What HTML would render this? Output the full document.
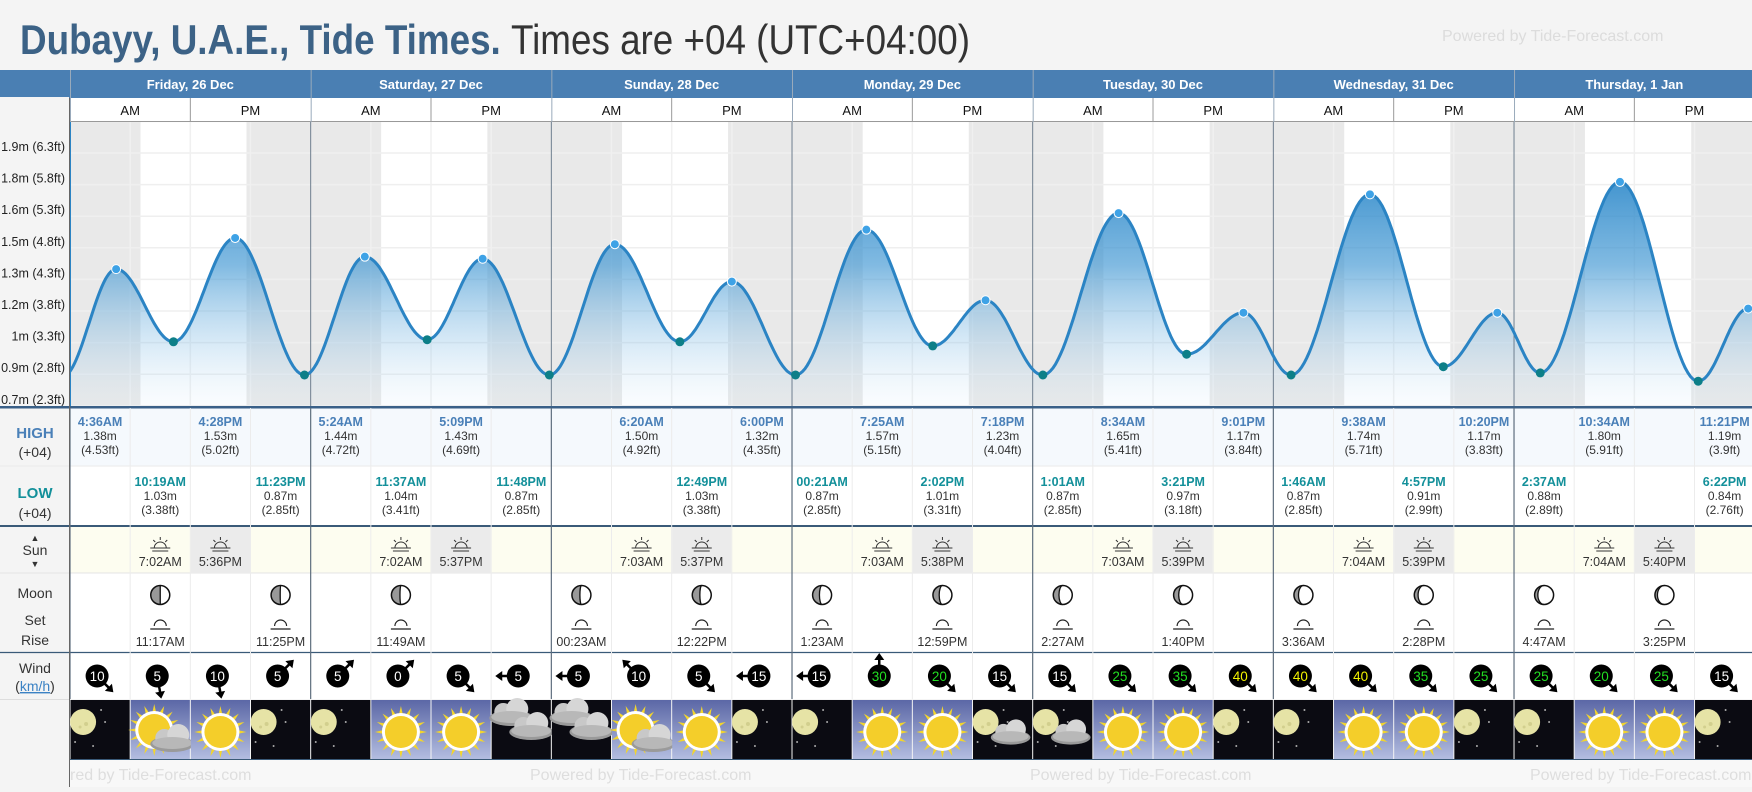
<!DOCTYPE html>
<html><head><meta charset="utf-8"><style>
html,body{margin:0;padding:0;background:#f4f4f4;}
body{width:1752px;height:787px;overflow:hidden;font-family:"Liberation Sans",sans-serif;}
svg text{font-family:"Liberation Sans",sans-serif;}
</style></head><body>
<svg id="s" width="1752" height="787" viewBox="0 0 1752 787" xmlns="http://www.w3.org/2000/svg">
<defs>
<linearGradient id="fillg" x1="0" y1="150" x2="0" y2="406" gradientUnits="userSpaceOnUse">
<stop offset="0" stop-color="#1f7fc4" stop-opacity="0.95"/>
<stop offset="0.45" stop-color="#3d95d2" stop-opacity="0.65"/>
<stop offset="1" stop-color="#cfe6f7" stop-opacity="0.1"/>
</linearGradient>
<linearGradient id="dayg" x1="0" y1="0" x2="0" y2="1">
<stop offset="0" stop-color="#5b67a6"/><stop offset="1" stop-color="#b3bde0"/>
</linearGradient>
<clipPath id="cc"><rect x="70" y="122" width="1682" height="284"/></clipPath>
</defs>
<rect x="0" y="0" width="1752" height="787" fill="#f4f4f4"/>
<text x="20" y="54" font-size="42" font-weight="bold" fill="#3c6286" textLength="950" lengthAdjust="spacingAndGlyphs">Dubayy, U.A.E., Tide Times. <tspan font-weight="normal" fill="#333">Times are +04 (UTC+04:00)</tspan></text>
<text x="1442" y="41" font-size="16" fill="#dcdcdc">Powered by Tide-Forecast.com</text>
<g id="g"></g>
</svg>
<script>
const days = ["Friday, 26 Dec","Saturday, 27 Dec","Sunday, 28 Dec","Monday, 29 Dec","Tuesday, 30 Dec","Wednesday, 31 Dec","Thursday, 1 Jan"];
const tideDay = [0,0,0,0,1,1,1,1,2,2,2,3,3,3,3,4,4,4,4,5,5,5,5,6,6,6,6];
const tideHour = [4.6,10.317,16.467,23.383,5.4,11.617,17.15,23.8,6.333,12.817,18.0,0.35,7.417,14.033,19.3,1.017,8.567,15.35,21.017,1.767,9.633,16.95,22.333,2.617,10.567,18.367,23.35];
const tideType = ["H","L","H","L","H","L","H","L","H","L","H","L","H","L","H","L","H","L","H","L","H","L","H","L","H","L","H"];
const tideTime = ["4:36AM","10:19AM","4:28PM","11:23PM","5:24AM","11:37AM","5:09PM","11:48PM","6:20AM","12:49PM","6:00PM","00:21AM","7:25AM","2:02PM","7:18PM","1:01AM","8:34AM","3:21PM","9:01PM","1:46AM","9:38AM","4:57PM","10:20PM","2:37AM","10:34AM","6:22PM","11:21PM"];
const tideM = [1.38,1.03,1.53,0.87,1.44,1.04,1.43,0.87,1.50,1.03,1.32,0.87,1.57,1.01,1.23,0.87,1.65,0.97,1.17,0.87,1.74,0.91,1.17,0.88,1.80,0.84,1.19];
const tideFt = ["4.53ft","3.38ft","5.02ft","2.85ft","4.72ft","3.41ft","4.69ft","2.85ft","4.92ft","3.38ft","4.35ft","2.85ft","5.15ft","3.31ft","4.04ft","2.85ft","5.41ft","3.18ft","3.84ft","2.85ft","5.71ft","2.99ft","3.83ft","2.89ft","5.91ft","2.76ft","3.9ft"];
const yTicks = ["2.1m (6.8ft)","1.9m (6.3ft)","1.8m (5.8ft)","1.6m (5.3ft)","1.5m (4.8ft)","1.3m (4.3ft)","1.2m (3.8ft)","1m (3.3ft)","0.9m (2.8ft)","0.7m (2.3ft)"];
const sunrise = ["7:02AM","7:02AM","7:03AM","7:03AM","7:03AM","7:04AM","7:04AM"];
const sunset = ["5:36PM","5:37PM","5:37PM","5:38PM","5:39PM","5:39PM","5:40PM"];
const sunriseH = [7.03,7.03,7.05,7.05,7.05,7.07,7.07];
const sunsetH = [17.6,17.62,17.62,17.63,17.65,17.65,17.67];
const moonDay = [0,0,1,2,2,3,3,4,4,5,5,6,6];
const moonCol = [1,3,1,0,2,0,2,0,2,0,2,0,2];
const moonTime = ["11:17AM","11:25PM","11:49AM","00:23AM","12:22PM","1:23AM","12:59PM","2:27AM","1:40PM","3:36AM","2:28PM","4:47AM","3:25PM"];
const moonKind = ["R","S","R","S","R","S","R","S","R","S","R","S","R"];
const moonPhase = [0.5,0.48,0.45,0.42,0.4,0.36,0.33,0.3,0.27,0.24,0.2,0.17,0.13];
const wind = [10,5,10,5, 5,0,5,5, 5,10,5,15, 15,30,20,15, 15,25,35,40, 40,40,35,25, 25,20,25,15];
const windDir = [45,80,80,-45, -45,-45,45,180, 180,-135,45,180, 180,-90,45,45, 45,45,45,45, 45,45,45,45, 45,45,45,45];
const weather = ["m","sc","s","m", "m","s","s","nc", "nc","sc","s","m", "m","s","s","mc", "mc","s","s","m", "m","s","s","m", "m","s","s","m"];

const NS="http://www.w3.org/2000/svg";
const G=document.getElementById('g');
function el(tag,attrs,parent){const e=document.createElementNS(NS,tag);for(const k in attrs)e.setAttribute(k,attrs[k]);(parent||G).appendChild(e);return e;}
function txt(x,y,s,attrs,parent){const t=el('text',Object.assign({x:x,y:y},attrs),parent);t.textContent=s;return t;}
const X0=70, DW=240.67, CW=DW/4;
const xT=t=>X0+t*DW/24;
const yH=h=>375-(h-0.87)*207.6;

let r=el('rect',{x:0,y:70,width:1752,height:28,fill:'#4a7fb3'});


r=el('rect',{x:X0,y:98,width:1682,height:24,fill:'#fff'});


el('line',{x1:0,y1:121.5,x2:1752,y2:121.5,stroke:'#999','stroke-width':1});
el('line',{x1:X0,y1:98,x2:X0,y2:122,stroke:'#666','stroke-width':1});
days.forEach((d,i)=>{
  const x=X0+i*DW;
  const t=txt(x+DW/2,89,d,{'font-size':13,'font-weight':'bold',fill:'#fff','text-anchor':'middle'});
  
  
  el('line',{x1:x+0.5,y1:70,x2:x+0.5,y2:122,stroke:'#9ab',"stroke-width":1});
  el('line',{x1:x+DW/2,y1:98,x2:x+DW/2,y2:122,stroke:'#999','stroke-width':1});
  const a=txt(x+DW/4,115,'AM',{'font-size':13,fill:'#111','text-anchor':'middle'});
  
  
  const p=txt(x+3*DW/4,115,'PM',{'font-size':13,fill:'#111','text-anchor':'middle'});
  
  
});

const cg=el('g',{'clip-path':'url(#cc)'});


el('rect',{x:X0,y:122,width:1682,height:284,fill:'#e9e9e9'},cg);
days.forEach((d,i)=>{
  const rr=el('rect',{x:xT(i*24+sunriseH[i]),y:122,width:xT(i*24+sunsetH[i])-xT(i*24+sunriseH[i]),height:284,fill:'#fff'},cg);
  
  
});
for(let k=0;k<10;k++){const y=153+(k-1)*31.6; el('line',{x1:X0,y1:y,x2:1752,y2:y,stroke:'#efefef','stroke-width':1.5},cg);}
for(let h=0;h<7*24+1;h+=6){ if(h%24) el('line',{x1:xT(h),y1:122,x2:xT(h),y2:406,stroke:'#f0f0f0','stroke-width':1.5},cg);}
const ts=[-0.8], hs=[0.86];
tideDay.forEach((d,i)=>{ts.push(d*24+tideHour[i]);hs.push(tideM[i]);});
ts.push(6*24+29.5);hs.push(0.9);
let pts=[];
for(let i=0;i<ts.length-1;i++){
  for(let s=0;s<=30;s++){const f=s/30;const t=ts[i]+(ts[i+1]-ts[i])*f;const h=hs[i]+(hs[i+1]-hs[i])*(1-Math.cos(Math.PI*f))/2;pts.push([xT(t),yH(h)]);}
}
const line=pts.map((p,i)=>(i?'L':'M')+p[0].toFixed(1)+','+p[1].toFixed(1)).join('');
const area=el('path',{d:line+`L${pts[pts.length-1][0]},406L${pts[0][0]},406Z`,fill:'url(#fillg)'},cg);


for(let i=1;i<7;i++){el('line',{x1:X0+i*DW,y1:122,x2:X0+i*DW,y2:406,stroke:'#6f7f8f','stroke-width':1},cg);}
const lp=el('path',{d:line,fill:'none',stroke:'#2b84c4','stroke-width':3},cg);


tideDay.forEach((d,i)=>{
  const c=el('circle',{cx:xT(d*24+tideHour[i]),cy:yH(tideM[i]),r:4.5,fill:tideType[i]=='H'?'#3ea2e6':'#0d7f88',stroke:'#fff','stroke-width':tideType[i]=='H'?1:0},cg);
  
  
});
el('line',{x1:X0,y1:122,x2:X0,y2:406,stroke:'#2b84c4','stroke-width':2});
el('rect',{x:0,y:98,width:69,height:308,fill:'#f4f4f4'});
yTicks.forEach((s,k)=>{
  const t=txt(65,153+(k-1)*31.6-2,s,{'font-size':12.5,fill:'#222','text-anchor':'end'});
  
  
});
el('rect',{x:0,y:97,width:69,height:25,fill:'#f4f4f4'});
el('line',{x1:69.5,y1:98,x2:69.5,y2:787,stroke:'#666','stroke-width':1});

el('rect',{x:X0,y:408,width:1682,height:58,fill:'#f5f9fd'});
el('rect',{x:X0,y:466,width:1682,height:60,fill:'#fff'});
el('rect',{x:X0,y:527,width:1682,height:46,fill:'#fdfdf0'});
el('rect',{x:X0,y:573,width:1682,height:79,fill:'#fff'});
el('rect',{x:X0,y:652,width:1682,height:47,fill:'#fff'});
el('rect',{x:0,y:759,width:1752,height:28,fill:'#f8f8f8'});
el('rect',{x:0,y:406,width:1752,height:2.5,fill:'#3a6088'});
el('rect',{x:0,y:525,width:1752,height:2,fill:'#3a5a78'});
el('line',{x1:0,y1:573,x2:1752,y2:573,stroke:'#e4e4e4'});
el('line',{x1:0,y1:652.5,x2:1752,y2:652.5,stroke:'#3a5a78','stroke-width':1.2});
el('line',{x1:0,y1:466,x2:1752,y2:466,stroke:'#eaeaea'});
el('line',{x1:0,y1:699.5,x2:70,y2:699.5,stroke:'#ddd'});
el('line',{x1:0,y1:759.5,x2:1752,y2:759.5,stroke:'#3a5a78','stroke-width':1});
for(let i=0;i<7;i++){
  for(let c=0;c<4;c++){
    const x=X0+i*DW+c*CW;
    el('line',{x1:x,y1:408,x2:x,y2:699,stroke:c?'#ececec':'#5e6e7e','stroke-width':c?1:1.2});
  }
  const sx=X0+i*DW+2*CW;
  el('rect',{x:sx+0.5,y:527,width:CW-1,height:46,fill:'#ebebeb'});
}
const L=(s,y,attrs,name)=>{const t=txt(35,y,s,Object.assign({'font-size':14,fill:'#333','text-anchor':'middle'},attrs));return t;};
L('HIGH',438,{'font-weight':'bold',fill:'#4a80b8','font-size':15},'high-row-label');
L('(+04)',457,{},'high-timezone-label');
L('LOW',498,{'font-weight':'bold',fill:'#13909a','font-size':15},'low-row-label');
L('(+04)',518,{},'low-timezone-label');
L('Sun',555,{},'sun-row-label');
L('▲',541,{'font-size':9},'sun-up-arrow');
L('▼',567,{'font-size':9},'sun-down-arrow');
L('Moon',598,{},'moon-row-label');
L('Set',625,{},'moonset-label');
L('Rise',645,{},'moonrise-label');
L('Wind',673,{},'wind-row-label');
const ku=txt(35,691,'',{'font-size':14,fill:'#333','text-anchor':'middle'});
ku.innerHTML='(<tspan fill="#3b82c4" text-decoration="underline">km/h</tspan>)';



tideDay.forEach((d,i)=>{
  const c=Math.floor(tideHour[i]/6);
  const cx=X0+d*DW+c*CW+CW/2;
  const y0=tideType[i]=='H'?426:486;
  const t=txt(cx,y0,tideTime[i],{'font-size':12.5,'font-weight':'bold',fill:tideType[i]=='H'?'#4a80b8':'#13909a','text-anchor':'middle'});
  
  
  const m=txt(cx,y0+14,tideM[i].toFixed(2)+'m',{'font-size':12,fill:'#333','text-anchor':'middle'});
  
  
  const f=txt(cx,y0+28,'('+tideFt[i]+')',{'font-size':12,fill:'#333','text-anchor':'middle'});
  
  
});
function sunIcon(cx,y,name){
  const g=el('g',{stroke:'#333','stroke-width':1,fill:'none'});
  
  
  el('path',{d:`M${cx-6},${y+5}A6,6 0 0 1 ${cx+6},${y+5}`},g);
  el('line',{x1:cx-10,y1:y+5,x2:cx+10,y2:y+5},g);
  el('line',{x1:cx-8,y1:y+8,x2:cx+8,y2:y+8},g);
  el('line',{x1:cx,y1:y-6,x2:cx,y2:y-3},g);
  el('line',{x1:cx-7,y1:y-3,x2:cx-5,y2:y-1},g);
  el('line',{x1:cx+7,y1:y-3,x2:cx+5,y2:y-1},g);
}
days.forEach((d,i)=>{
  const x1=X0+i*DW+1.5*CW, x2=X0+i*DW+2.5*CW;
  sunIcon(x1,543,'sunrise-icon'); sunIcon(x2,543,'sunset-icon');
  const a=txt(x1,566,sunrise[i],{'font-size':12.5,fill:'#333','text-anchor':'middle'});
  
  
  const b=txt(x2,566,sunset[i],{'font-size':12.5,fill:'#333','text-anchor':'middle'});
  
  
});
moonDay.forEach((d,i)=>{
  const cx=X0+d*DW+moonCol[i]*CW+CW/2;
  const g=el('g',{});
  
  
  el('circle',{cx:cx,cy:595,r:9.5,fill:'#fff'},g);
  el('path',{d:`M${cx},585.5A9.5,9.5 0 0 0 ${cx},604.5Z`,fill:'#999'},g);
  const rx=Math.max(0.01,(0.5-moonPhase[i])*19);
  el('ellipse',{cx:cx,cy:595,rx:rx,ry:9.5,fill:'#fff'},g);
  el('line',{x1:cx-rx,y1:595,x2:cx-rx,y2:595,stroke:'none'},g);
  el('path',{d:`M${cx},585.5A${rx},9.5 0 0 0 ${cx},604.5`,fill:'none',stroke:'#111','stroke-width':1.3},g);
  el('circle',{cx:cx,cy:595,r:9.5,fill:'none',stroke:'#111','stroke-width':1.5},g);
  const ic=el('g',{stroke:'#222',fill:'none','stroke-width':1.2});
  
  
  el('path',{d:`M${cx-6},626A6,6 0 0 1 ${cx+6},626`},ic);
  el('line',{x1:cx-10,y1:629,x2:cx+10,y2:629},ic);
  const t=txt(cx,646,moonTime[i],{'font-size':12.5,fill:'#333','text-anchor':'middle'});
  
  
});
wind.forEach((v,k)=>{
  const cx=X0+k*CW+CW/2-3, cy=676;
  const g=el('g',{});
  
  
  const rad=windDir[k]*Math.PI/180;
  const ax=cx+Math.cos(rad)*19, ay=cy+Math.sin(rad)*19;
  el('line',{x1:cx,y1:cy,x2:ax,y2:ay,stroke:'#000','stroke-width':2.5},g);
  const px=-Math.sin(rad), py=Math.cos(rad);
  el('polygon',{points:`${ax+Math.cos(rad)*4},${ay+Math.sin(rad)*4} ${ax-Math.cos(rad)*3+px*5},${ay-Math.sin(rad)*3+py*5} ${ax-Math.cos(rad)*3-px*5},${ay-Math.sin(rad)*3-py*5}`,fill:'#000'},g);
  el('circle',{cx:cx,cy:cy,r:11.5,fill:'#000'},g);
  const col=v>=40?'#f2f200':(v>=20?'#22dd22':'#fff');
  const t=txt(cx,cy+5,String(v),{'font-size':13.5,fill:col,'text-anchor':'middle'},g);
  
  
});
function sun(g,cx,cy){
  for(let a=0;a<16;a++){const an=a*Math.PI/8;el('polygon',{points:`${cx+Math.cos(an-0.12)*17},${cy+Math.sin(an-0.12)*17} ${cx+Math.cos(an)*26},${cy+Math.sin(an)*26} ${cx+Math.cos(an+0.12)*17},${cy+Math.sin(an+0.12)*17}`,fill:'#f3d52c'},g);}
  el('circle',{cx:cx,cy:cy,r:19,fill:'#fff'},g);
  el('circle',{cx:cx,cy:cy,r:16,fill:'#f4ce2a'},g);
}
function cloud(g,cx,cy,s){
  el('ellipse',{cx:cx,cy:cy+6*s,rx:22*s,ry:8*s,fill:'#9a9a9a'},g);
  el('circle',{cx:cx-8*s,cy:cy,r:9*s,fill:'#c8c8c8'},g);
  el('circle',{cx:cx+6*s,cy:cy-3*s,r:11*s,fill:'#d6d6d6'},g);
  el('ellipse',{cx:cx,cy:cy+5*s,rx:20*s,ry:6*s,fill:'#b8b8b8'},g);
}
function moon(g,cx,cy){
  el('circle',{cx:cx,cy:cy,r:13,fill:'#e6e3a6'},g);
  el('circle',{cx:cx+3,cy:cy+2,r:2,fill:'#d2cf8e'},g);
  el('circle',{cx:cx-3,cy:cy+5,r:1.5,fill:'#d2cf8e'},g);
  [[18,-12],[22,0],[-8,20],[10,24]].forEach(p=>el('circle',{cx:cx+p[0],cy:cy+p[1],r:1,fill:'#aaa'},g));
}
weather.forEach((w,k)=>{
  const x=X0+k*CW+0.5, y=700, wdt=CW-1, h=59;
  const g=el('g',{});
  
  
  const day=w[0]=='s';
  el('rect',{x:x,y:y,width:wdt,height:h,fill:day?'url(#dayg)':'#0b0b12'},g);
  const cx=x+wdt/2;
  if(w=='s') sun(g,cx,y+32);
  if(w=='sc'){sun(g,cx-6,y+30);cloud(g,cx+12,y+38,1);}
  if(w=='m') moon(g,cx-17,y+22);
  if(w=='mc'){moon(g,cx-17,y+22);cloud(g,cx+8,y+32,0.9);}
  if(w=='nc'){cloud(g,cx-10,y+12,1);cloud(g,cx+10,y+26,1);}
});
for(let i=0;i<4;i++){
  const t=txt(X0-60+i*500+20,780,'Powered by Tide-Forecast.com',{'font-size':16,fill:'#dedede'});
  
  
}
el('rect',{x:0,y:759,width:69,height:28,fill:'#f4f4f4'});
el('line',{x1:69.5,y1:406,x2:69.5,y2:787,stroke:'#666','stroke-width':1});
</script>
</body></html>
